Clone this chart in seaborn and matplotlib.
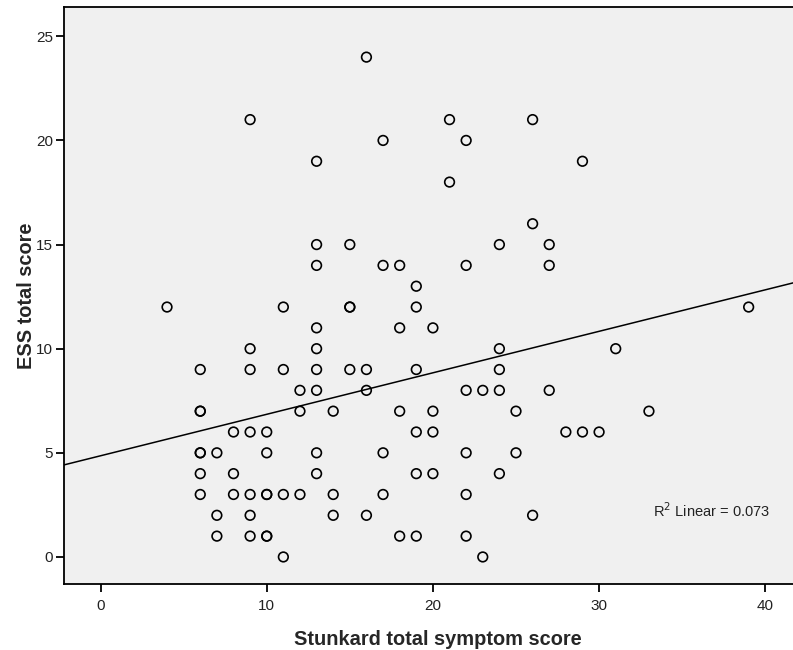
import matplotlib
matplotlib.use("Agg")
import matplotlib.pyplot as plt
import seaborn as sns
import pandas as pd
import numpy as np

# Stunkard total symptom score (x) and ESS total score (y)
stunkard = [16,
            9, 21, 26,
            17, 22,
            13, 29,
            21,
            26,
            13, 15, 24, 27,
            13, 17, 18, 22, 27,
            19,
            4, 11, 15, 15, 19, 39,
            13, 18, 20,
            9, 13, 24, 31,
            6, 9, 11, 13, 15, 16, 19, 24,
            12, 13, 16, 22, 23, 24, 27,
            6, 6, 12, 14, 18, 20, 25, 33,
            8, 9, 10, 19, 20, 28, 29, 30,
            6, 6, 7, 10, 13, 17, 22, 25,
            6, 8, 13, 19, 20, 24,
            6, 8, 9, 10, 10, 11, 12, 14, 17, 22,
            7, 9, 14, 16, 26,
            7, 9, 10, 10, 18, 19, 22,
            11, 23]
ess = [24,
       21, 21, 21,
       20, 20,
       19, 19,
       18,
       16,
       15, 15, 15, 15,
       14, 14, 14, 14, 14,
       13,
       12, 12, 12, 12, 12, 12,
       11, 11, 11,
       10, 10, 10, 10,
       9, 9, 9, 9, 9, 9, 9, 9,
       8, 8, 8, 8, 8, 8, 8,
       7, 7, 7, 7, 7, 7, 7, 7,
       6, 6, 6, 6, 6, 6, 6, 6,
       5, 5, 5, 5, 5, 5, 5, 5,
       4, 4, 4, 4, 4, 4,
       3, 3, 3, 3, 3, 3, 3, 3, 3, 3,
       2, 2, 2, 2, 2,
       1, 1, 1, 1, 1, 1, 1,
       0, 0]

x_ticks = [0, 10, 20, 30, 40]
y_ticks = [0, 5, 10, 15, 20, 25]
x_label = "Stunkard total symptom score"
y_label = "ESS total score"
r2_text = "R$^{2}$ Linear = 0.073"

df = pd.DataFrame({"stunkard": stunkard, "ess": ess})

sns.set_style("ticks")
plt.rcParams["font.family"] = ["Liberation Sans", "DejaVu Sans"]

fig = plt.figure(figsize=(7.93, 6.5), dpi=100)
ax = fig.add_axes([0.0807, 0.1015, 0.943, 0.8875])
ax.set_facecolor("#f0f0f0")
ax.set_xlim(-2.2, 42.8)
ax.set_ylim(-1.3, 26.4)

sns.scatterplot(data=df, x="stunkard", y="ess", ax=ax, s=48,
                facecolor="none", edgecolor="black", linewidth=1.2, zorder=3)
sns.regplot(data=df, x="stunkard", y="ess", ax=ax, scatter=False, ci=None,
            truncate=False, color="black", line_kws={"linewidth": 1.1})

ax.set_xlim(-2.2, 42.8)
ax.set_ylim(-1.3, 26.4)
ax.set_xticks(x_ticks)
ax.set_yticks(y_ticks)
ax.tick_params(axis="both", direction="out", length=6, width=1.3,
               labelsize=11, labelcolor="#222222", color="black")
ax.tick_params(axis="x", pad=5)
ax.tick_params(axis="y", pad=2)
for s in ax.spines.values():
    s.set_linewidth(1.3)
    s.set_color("black")

ax.set_xlabel(x_label, fontsize=14.4, fontweight="bold", labelpad=12)
ax.set_ylabel(y_label, fontsize=14.4, fontweight="bold", labelpad=0)

ax.text(0.788, 0.128, r2_text, transform=ax.transAxes, fontsize=10.5,
        color="#222222", ha="left", va="center")

fig.savefig("out.png", dpi=100)
